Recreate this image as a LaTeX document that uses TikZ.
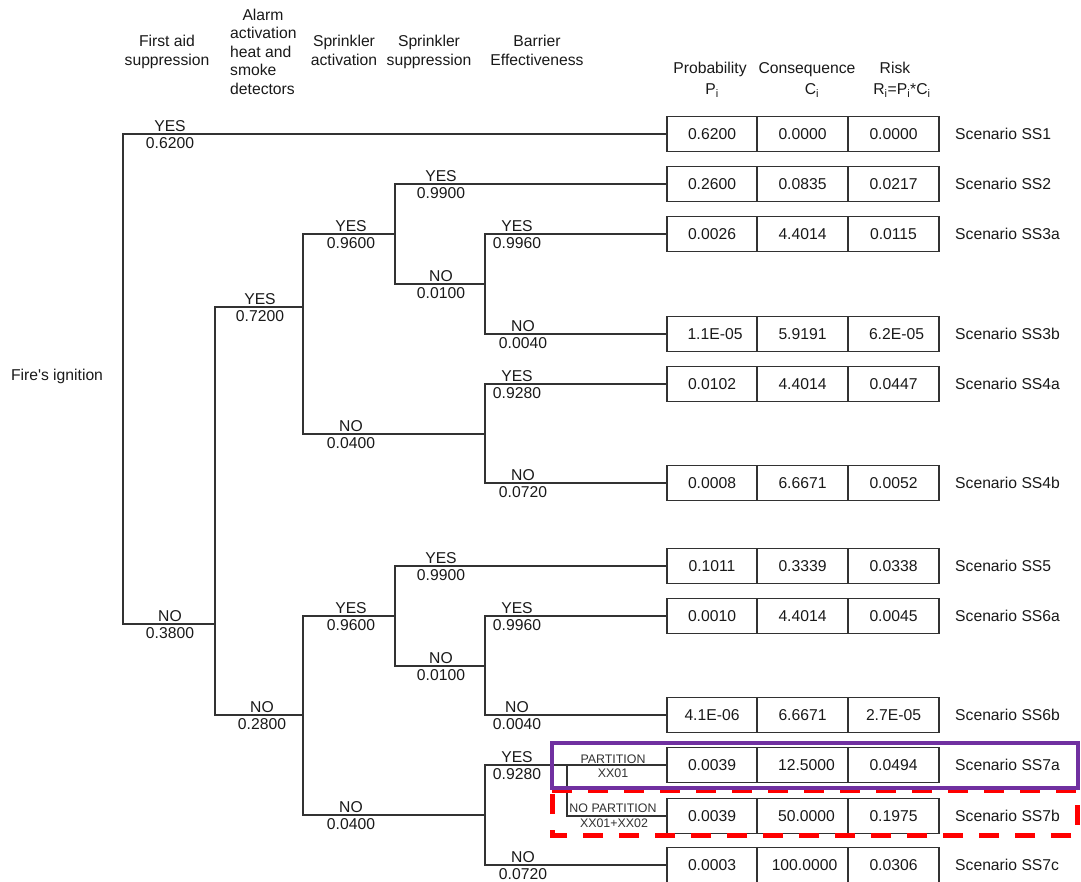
\documentclass[tikz,border=0pt]{standalone}
\usepackage{fontspec}
\setmainfont{Liberation Sans}
\definecolor{ink}{RGB}{25,25,25}
\definecolor{ln}{RGB}{50,50,50}
\definecolor{purp}{RGB}{112,48,160}
\definecolor{redd}{RGB}{255,0,0}
\tikzset{
  cell/.style={draw=ln, line width=1.2pt, minimum height=35pt, inner sep=0pt,
    outer sep=0pt, text height=11.3pt, text depth=0pt, anchor=west},
  cwa/.style={cell, minimum width=90pt},
  cwb/.style={cell, minimum width=91pt},
  scen/.style={anchor=west, inner sep=0pt, text height=11.3pt, text depth=0pt},
  br/.style={draw=ln, line width=1.2pt, line cap=rect},
  hd/.style={anchor=base, inner sep=0pt},
  hdl/.style={anchor=base west, inner sep=0pt},
  pl/.style={anchor=base, inner sep=0pt, font=\fontsize{12.4}{14}\selectfont, text=ln}
}
\newcommand\scrow[6]{%
  \node[cwa] (p#1) at (667,#2) {#3};
  \node[cwb] (c#1) at (p#1.east) {#4};
  \node[cwb] (r#1) at (c#1.east) {#5};
  \node[scen] (s#1) at (955,#2) {#6};}
\newcommand\brlab[5]{%
  \node[hd] (t#1) at (#2,#3-2.5) {#4};
  \node[hd] (b#1) at (#2,#3+14.5) {#5};}
\begin{document}
\begin{tikzpicture}[x=1pt,y=-1pt,font=\fontsize{15.7}{18.8}\selectfont,text=ink]
\useasboundingbox (0,0) rectangle (1081,882);

% headers
\node[hd] (h1a) at (167,46.5) {First aid};
\node[hd] (h1b) at (167,65.5) {suppression};
\node[hd] (h2a) at (263,20.5) {Alarm};
\node[hdl] (h2b) at (230,39) {activation};
\node[hdl] (h2c) at (230,57.5) {heat and};
\node[hdl] (h2d) at (230,76) {smoke};
\node[hdl] (h2e) at (230,94.5) {detectors};
\node[hd] (h3a) at (344,46.5) {Sprinkler};
\node[hd] (h3b) at (344,65.5) {activation};
\node[hd] (h4a) at (429,46.5) {Sprinkler};
\node[hd] (h4b) at (429,65.5) {suppression};
\node[hd] (h5a) at (537,46.5) {Barrier};
\node[hd] (h5b) at (537,65.5) {Effectiveness};
\node[hd] (h6a) at (710,74) {Probability};
\node[hd] (h6b) at (712,95) {P\textsubscript{i}};
\node[hd] (h7a) at (807,74) {Consequence};
\node[hd] (h7b) at (812,95) {C\textsubscript{i}};
\node[hd] (h8a) at (895,74) {Risk};
\node[hd] (h8b) at (902,95) {R\textsubscript{i}=P\textsubscript{i}*C\textsubscript{i}};

\node[hd] (fire) at (57,380) {Fire\textquotesingle s ignition};

% outcome rows
\scrow{1}{134}{0.6200}{0.0000}{0.0000}{Scenario SS1}
\scrow{2}{184}{0.2600}{0.0835}{0.0217}{Scenario SS2}
\scrow{3a}{234}{0.0026}{4.4014}{0.0115}{Scenario SS3a}
\scrow{3b}{334}{\hspace*{6pt}1.1E-05}{5.9191}{\hspace*{6pt}6.2E-05}{Scenario SS3b}
\scrow{4a}{384}{0.0102}{4.4014}{0.0447}{Scenario SS4a}
\scrow{4b}{483}{0.0008}{6.6671}{0.0052}{Scenario SS4b}
\scrow{5}{566}{0.1011}{0.3339}{0.0338}{Scenario SS5}
\scrow{6a}{616}{0.0010}{4.4014}{0.0045}{Scenario SS6a}
\scrow{6b}{715}{4.1E-06}{6.6671}{2.7E-05}{Scenario SS6b}
\scrow{7a}{765}{0.0039}{\hspace*{8pt}12.5000}{0.0494}{Scenario SS7a}
\scrow{7b}{816}{0.0039}{\hspace*{8pt}50.0000}{0.1975}{Scenario SS7b}
\scrow{7c}{865}{0.0003}{\hspace*{4pt}100.0000}{0.0306}{Scenario SS7c}

% tree junction points
\coordinate (At) at (123,134); \coordinate (Ab) at (123,624);
\coordinate (Bin) at (215,624); \coordinate (Bt) at (215,307); \coordinate (Bb) at (215,715);
\coordinate (Cin) at (303,307); \coordinate (Ct) at (303,234); \coordinate (Cb) at (303,434);
\coordinate (Din) at (395,234); \coordinate (Dt) at (395,184); \coordinate (Db) at (395,284);
\coordinate (Ein) at (485,284); \coordinate (Et) at (485,234); \coordinate (Eb) at (485,334);
\coordinate (Fin) at (485,434); \coordinate (Ft) at (485,384); \coordinate (Fb) at (485,483);
\coordinate (Gin) at (303,715); \coordinate (Gt) at (303,616); \coordinate (Gb) at (303,815);
\coordinate (Hin) at (395,616); \coordinate (Ht) at (395,566); \coordinate (Hb) at (395,666);
\coordinate (Iin) at (485,666); \coordinate (It) at (485,616); \coordinate (Ib) at (485,715);
\coordinate (Kin) at (485,815); \coordinate (Kt) at (485,765); \coordinate (Kb) at (485,865);
\coordinate (Pt) at (567,765); \coordinate (Pb) at (567,816);

% tree
\draw[br] (At) -- (Ab);
\draw[br] (At) -- (p1.west);
\draw[br] (Ab) -- (Bin);
\draw[br] (Bt) -- (Bb);
\draw[br] (Bt) -- (Cin);
\draw[br] (Ct) -- (Cb);
\draw[br] (Ct) -- (Din);
\draw[br] (Dt) -- (Db);
\draw[br] (Dt) -- (p2.west);
\draw[br] (Db) -- (Ein);
\draw[br] (Et) -- (Eb);
\draw[br] (Et) -- (p3a.west);
\draw[br] (Eb) -- (p3b.west);
\draw[br] (Cb) -- (Fin);
\draw[br] (Ft) -- (Fb);
\draw[br] (Ft) -- (p4a.west);
\draw[br] (Fb) -- (p4b.west);
\draw[br] (Bb) -- (Gin);
\draw[br] (Gt) -- (Gb);
\draw[br] (Gt) -- (Hin);
\draw[br] (Ht) -- (Hb);
\draw[br] (Ht) -- (p5.west);
\draw[br] (Hb) -- (Iin);
\draw[br] (It) -- (Ib);
\draw[br] (It) -- (p6a.west);
\draw[br] (Ib) -- (p6b.west);
\draw[br] (Gb) -- (Kin);
\draw[br] (Kt) -- (Kb);
\draw[br] (Kt) -- (p7a.west);
\draw[br] (Kb) -- (p7c.west);
\draw[br] (Pt) -- (Pb);
\draw[br] (Pb) -- (p7b.west);

% branch labels
\brlab{a1}{170}{134}{YES}{0.6200}
\brlab{a2}{170}{624}{NO}{0.3800}
\brlab{b1}{260}{307}{YES}{0.7200}
\brlab{b2}{262}{715}{NO}{0.2800}
\brlab{c1}{351}{234}{YES}{0.9600}
\brlab{c2}{351}{434}{NO}{0.0400}
\brlab{d1}{441}{184}{YES}{0.9900}
\brlab{d2}{441}{284}{NO}{0.0100}
\brlab{e1}{517}{234}{YES}{0.9960}
\brlab{e2}{523}{334}{NO}{0.0040}
\brlab{f1}{517}{384}{YES}{0.9280}
\brlab{f2}{523}{483}{NO}{0.0720}
\brlab{g1}{351}{616}{YES}{0.9600}
\brlab{g2}{351}{815}{NO}{0.0400}
\brlab{h1}{441}{566}{YES}{0.9900}
\brlab{h2}{441}{666}{NO}{0.0100}
\brlab{i1}{517}{616}{YES}{0.9960}
\brlab{i2}{517}{715}{NO}{0.0040}
\brlab{k1}{517}{765}{YES}{0.9280}
\brlab{k2}{523}{865}{NO}{0.0720}

% partition labels
\node[pl] (pa1) at (613,763.5) {PARTITION};
\node[pl] (pa2) at (613,777.5) {XX01};
\node[pl] (pb1) at (613,812.5) {NO PARTITION};
\node[pl] (pb2) at (614,827.5) {XX01+XX02};

% highlight frames
\draw[redd, line width=5pt, dash pattern=on 20pt off 16pt]
  (552,790) -- (1077,790) -- (1077,835) -- (552,835) -- cycle;
\draw[purp, line width=4pt] (552,743) rectangle (1078,788);
\end{tikzpicture}
\end{document}
